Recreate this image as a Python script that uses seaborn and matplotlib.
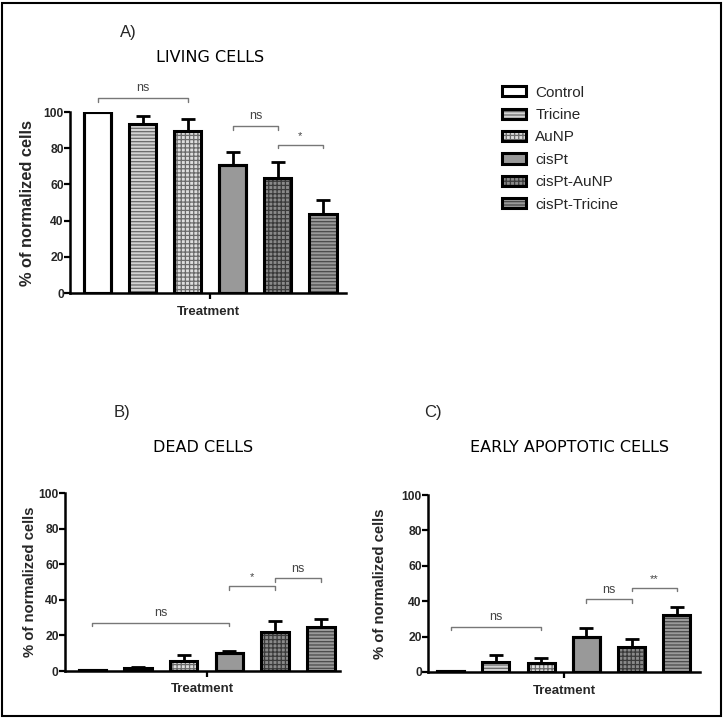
import numpy as np
import pandas as pd
import matplotlib
matplotlib.use("Agg")
import matplotlib.pyplot as plt
import seaborn as sns
from matplotlib.patches import Rectangle, Patch
from matplotlib.legend_handler import HandlerTuple

sns.set_style("white")
plt.rcParams["font.family"] = ["Liberation Sans", "DejaVu Sans"]
plt.rcParams["hatch.linewidth"] = 0.9

# ---- data ----
treatments = ["Control", "Tricine", "AuNP", "cisPt", "cisPt-AuNP", "cisPt-Tricine"]
living = [100, 93.5, 89.5, 70.5, 63.5, 43.5]
living_err = [0, 4.5, 6.5, 7.5, 9, 8]
dead = [0.5, 1.5, 5.5, 10, 22, 24.5]
dead_err = [0.2, 0.7, 3.5, 1.5, 6, 4.5]
early = [0.5, 5.5, 5, 19.5, 14, 32]
early_err = [0.2, 4, 3, 5.5, 4.5, 5]

living_sig = [(0, 2, 107.5, "ns"), (3, 4, 92, "ns"), (4, 5, 82, "*")]
dead_sig = [(0, 3, 27, "ns"), (3, 4, 47.5, "*"), (4, 5, 52, "ns")]
early_sig = [(0, 2, 25.5, "ns"), (3, 4, 41, "ns"), (4, 5, 47.5, "**")]

# ---- styles ----
fills = ["#ffffff", "#d4d4d4", "#dedede", "#999999", "#8a8a8a", "#9a9a9a"]
hatches = [None, "-----", "++++", None, "++++", "-----"]
hatch_cols = ["#000000", "#6a6a6a", "#6a6a6a", "#000000", "#3a3a3a", "#4a4a4a"]

fig = plt.figure(figsize=(7.25, 7.18), dpi=100)
W, H = 725, 718


def ax_rect(x0, x1, y_top, y_bot):
    return [x0 / W, 1 - y_bot / H, (x1 - x0) / W, (y_bot - y_top) / H]


def draw_panel(ax, vals, errs, sigs, xlim, ylab_size, ylab_x):
    df = pd.DataFrame({"Treatment": treatments, "val": vals})
    sns.barplot(data=df, x="Treatment", y="val", order=treatments, ax=ax,
                width=0.6, errorbar=None, color="white", saturation=1)
    bars = list(ax.patches)
    for i, p in enumerate(bars):
        p.set_facecolor(fills[i])
        if hatches[i]:
            p.set_hatch(hatches[i])
            p.set_edgecolor(hatch_cols[i])
            p.set_linewidth(0)
        else:
            p.set_edgecolor("black")
            p.set_linewidth(2.2)
        ax.add_patch(Rectangle(p.get_xy(), p.get_width(), p.get_height(),
                               fill=False, edgecolor="black", linewidth=2.2,
                               zorder=p.get_zorder() + 0.1))
    xs = np.arange(len(vals))
    ax.errorbar(xs, vals, yerr=[np.zeros(len(vals)), errs], fmt="none",
                ecolor="black", elinewidth=2, capsize=5, capthick=2, zorder=1)
    for a, b, y, lab in sigs:
        ax.plot([a, a, b, b], [y - 1.8, y, y, y - 1.8], color="#777777",
                lw=1.0, clip_on=False)
        fs = 9 if lab == "ns" else 8
        ax.text((a + b) / 2, y + 2.2, lab, ha="center", va="bottom",
                fontsize=fs, color="#444444", clip_on=False)
    ax.set_ylim(0, 100)
    ax.set_xlim(*xlim)
    ax.set_yticks([0, 20, 40, 60, 80, 100])
    ax.set_xticks([2.5])
    ax.set_xticklabels([""])
    ax.set_xlabel("Treatment", fontsize=9.5, fontweight="bold", labelpad=4)
    ax.set_ylabel("% of normalized cells", fontsize=ylab_size,
                  fontweight="bold")
    ax.yaxis.set_label_coords(ylab_x, 0.5)
    for lab in ax.get_yticklabels():
        lab.set_fontweight("bold")
        lab.set_fontsize(8.7)
    ax.tick_params(axis="y", direction="out", length=4, width=1.6,
                   color="black", left=True, pad=0.5)
    ax.tick_params(axis="x", direction="out", length=4, width=1.6,
                   color="black", bottom=True, pad=1)
    for s in ["top", "right"]:
        ax.spines[s].set_visible(False)
    for s in ["left", "bottom"]:
        ax.spines[s].set_linewidth(1.8)
        ax.spines[s].set_color("black")
    ax.set_facecolor("white")


axA = fig.add_axes(ax_rect(70, 346, 112, 293))
draw_panel(axA, living, living_err, living_sig, (-0.61, 5.51), 11.8, -0.125)
axB = fig.add_axes(ax_rect(65, 340, 493, 671))
draw_panel(axB, dead, dead_err, dead_sig, (-0.6, 5.42), 10.7, -0.102)
axC = fig.add_axes(ax_rect(428, 700, 495, 672))
draw_panel(axC, early, early_err, early_sig, (-0.5, 5.51), 10.7, -0.15)

# titles
tfont = dict(family="DejaVu Sans", fontsize=11.5, color="black")
fig.text(128 / W, 1 - 33 / H, "A)", ha="center", va="center",
         family="Liberation Sans", fontsize=12)
fig.text(210 / W, 1 - 58 / H, "LIVING CELLS", ha="center", va="center", **tfont)
fig.text(122 / W, 1 - 413 / H, "B)", ha="center", va="center",
         family="Liberation Sans", fontsize=12)
fig.text(203 / W, 1 - 447 / H, "DEAD CELLS", ha="center", va="center", **tfont)
fig.text(433 / W, 1 - 413 / H, "C)", ha="center", va="center",
         family="Liberation Sans", fontsize=12)
fig.text(570 / W, 1 - 447 / H, "EARLY APOPTOTIC CELLS", ha="center",
         va="center", **tfont)

# legend
handles = []
for i, t in enumerate(treatments):
    base = Patch(facecolor=fills[i], edgecolor=hatch_cols[i], linewidth=0,
                 hatch=hatches[i])
    outline = Patch(facecolor="none", edgecolor="black", linewidth=2.2)
    handles.append((base, outline))
leg = fig.legend(handles=handles, labels=treatments, loc="upper left",
                 bbox_to_anchor=(494 / W, 1 - 78 / H), frameon=False,
                 fontsize=11, handlelength=1.6, handleheight=0.65,
                 labelspacing=0.55, handletextpad=0.6, borderpad=0,
                 handler_map={tuple: HandlerTuple(ndivide=1, pad=0)})

# figure border
fig.patches.append(Rectangle((2 / W, 2 / H), 719 / W, 713 / H, fill=False,
                             edgecolor="black", linewidth=1.5,
                             transform=fig.transFigure, figure=fig))

fig.savefig("out.png", dpi=100, facecolor="white")
